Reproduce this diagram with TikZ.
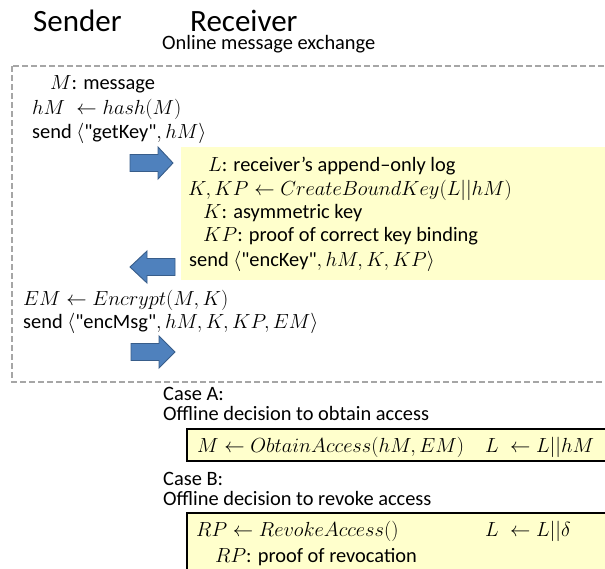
\RequirePackage{fix-cm}
\documentclass[tikz,border=0pt]{standalone}
\usepackage{fontspec}
\setmainfont{Carlito}
\newfontfamily\quotefont{Carlito}
\definecolor{arrowblue}{HTML}{4F81BD}
\definecolor{arrowedge}{HTML}{385D8A}
\definecolor{dashgray}{HTML}{A6A6A6}
\definecolor{lightyellow}{HTML}{FFFFCC}
\newcommand{\qq}{{\quotefont"}}
\begin{document}
\begin{tikzpicture}[x=1pt,y=-1pt,
  txt/.style={anchor=base west, inner sep=0pt, font=\fontsize{20.4}{24}\selectfont},
  titletxt/.style={anchor=base west, inner sep=0pt, font=\fontsize{31}{36}\selectfont},
  barrow/.style={fill=arrowblue, draw=arrowedge, line width=0.9pt, line join=miter},
  dashbox/.style={draw=dashgray, line width=1.6pt, dash pattern=on 6pt off 3pt},
  ybox/.style={fill=lightyellow},
  cbox/.style={fill=lightyellow, draw=black, line width=1.6pt}]
\useasboundingbox (0,0) rectangle (605,568);
\clip (0,0) rectangle (605,568);

% titles
\node[titletxt] (sender) at (33,31) {Sender};
\node[titletxt] (receiver) at (190,31) {Receiver};
\node[txt] (online) at (162,49) {Online message exchange};

% online exchange frame
\path[dashbox] (12,66) rectangle (640,382);
\path[ybox] (181,147) rectangle (640,280);

% sender, step 1
\node[txt] (msg) at (50,89) {$M$: message};
\node[txt] (hash) at (32,114) {$hM\;\leftarrow hash(M)$};
\node[txt] (getkey) at (32,138) {send $\langle$\qq getKey\qq$, hM\rangle$};

% receiver
\node[txt] (log) at (208,171) {$L$: receiver’s append–only log};
\node[txt] (cbk) at (188,195) {$K, KP \leftarrow CreateBoundKey(L||hM)$};
\node[txt] (key) at (203,218) {$K$: asymmetric key};
\node[txt] (kp) at (203,241) {$KP$: proof of correct key binding};
\node[txt] (enckey) at (189,266) {send $\langle$\qq encKey\qq$, hM, K, KP\rangle$};

% sender, step 2
\node[txt] (enc) at (23,305) {$EM \leftarrow Encrypt(M, K)$};
\node[txt] (encmsg) at (23,328) {send $\langle$\qq encMsg\qq$, hM, K, KP, EM\rangle$};

% block arrows
\draw[barrow, shift={(130,163)}] (0,-8.5) -- (28,-8.5) -- (28,-16) -- (43,0) -- (28,16) -- (28,8.5) -- (0,8.5) -- cycle;
\draw[barrow, shift={(130,267)}] (0,0) -- (17,-16) -- (17,-8.5) -- (45,-8.5) -- (45,8.5) -- (17,8.5) -- (17,16) -- cycle;
\draw[barrow, shift={(131,352)}] (0,-8.5) -- (28,-8.5) -- (28,-16) -- (44,0) -- (28,16) -- (28,8.5) -- (0,8.5) -- cycle;

% case A
\node[txt] (casea) at (163,400) {Case A:};
\node[txt] (offa) at (163,420) {Offline decision to obtain access};
\path[cbox] (187,429) rectangle (640,461);
\node[txt] (obtain) at (197,452) {$M \leftarrow ObtainAccess(hM, EM)$};
\node[txt] (appa) at (485,452) {$L\;\leftarrow L||hM$};

% case B
\node[txt] (caseb) at (163,485) {Case B:};
\node[txt] (offb) at (163,505) {Offline decision to revoke access};
\path[cbox] (187,513) rectangle (640,600);
\node[txt] (revoke) at (196,536) {$RP \leftarrow RevokeAccess()$};
\node[txt] (appb) at (485,536) {$L\;\leftarrow L||\delta$};
\node[txt] (rp) at (215,562) {$RP$: proof of revocation};
\end{tikzpicture}
\end{document}
